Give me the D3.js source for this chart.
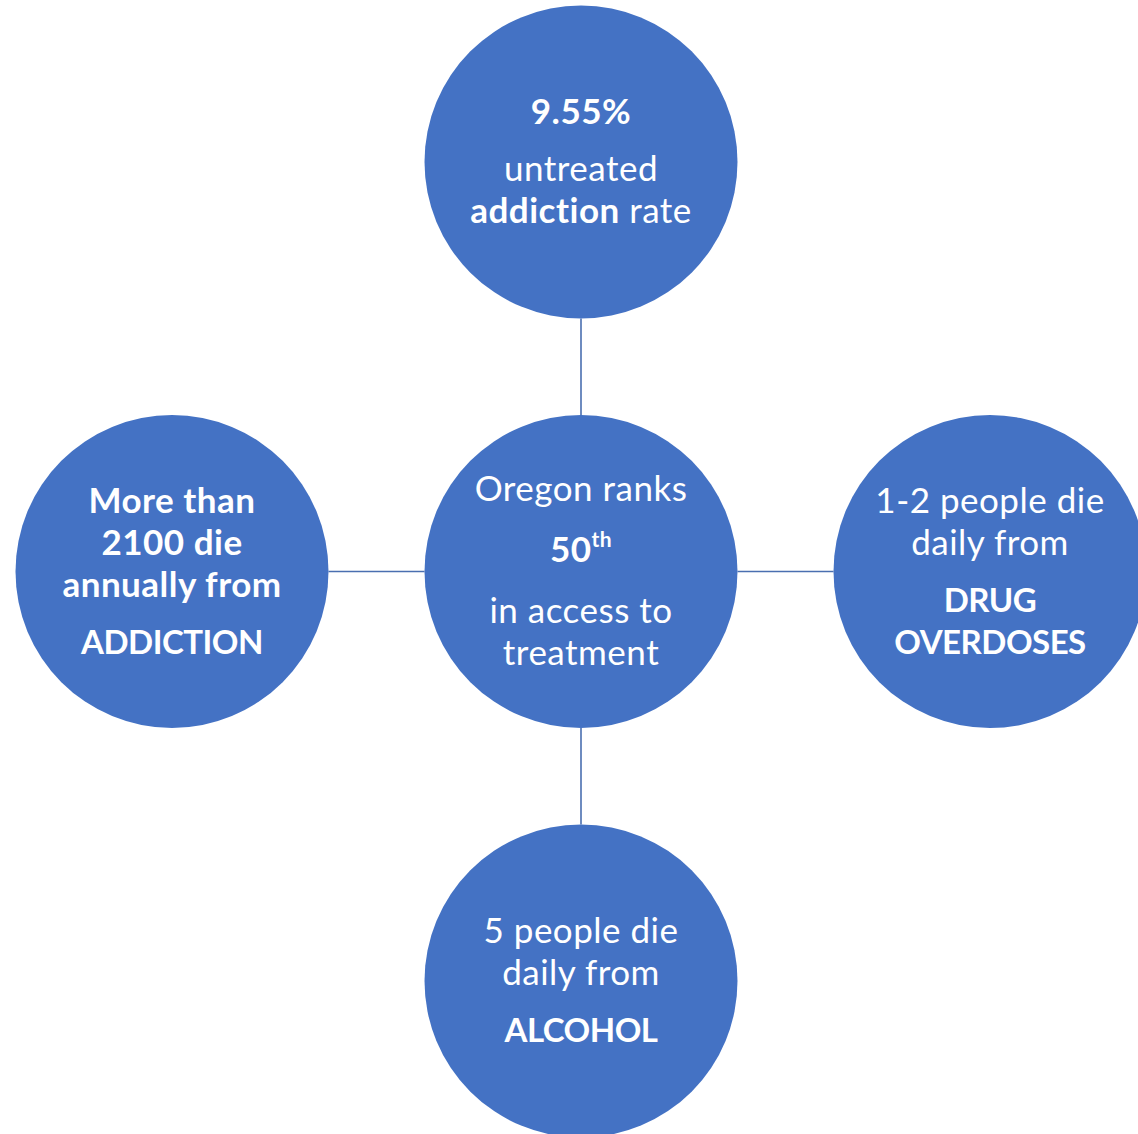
<!DOCTYPE html>
<html>
<head>
<meta charset="utf-8">
<script src="https://cdn.jsdelivr.net/npm/d3@7"></script>
<style>
  html, body { margin: 0; padding: 0; background: #fff; overflow: hidden; }
  text { font-variant-ligatures: none; font-feature-settings: "liga" 0, "clig" 0; }
</style>
</head>
<body>
<div id="chart"></div>
<script>
// Node placement (categorical grid cells) and the text each circle carries
var nodeIds = ["top", "center", "left", "right", "bottom"];
var nodeCols = ["mid", "mid", "left", "right", "mid"];
var nodeRows = ["top", "mid", "mid", "mid", "bottom"];

// each node: paragraphs -> lines -> segments [text, style]  (n = normal, b = bold, s = superscript)
var nodeText = [
  [ [ [["9.55%", "b"]] ],
    [ [["untreated", "n"]], [["addiction", "b"], [" rate", "n"]] ] ],
  [ [ [["Oregon ranks", "n"]] ],
    [ [["50", "b"], ["th", "s"]] ],
    [ [["in access to", "n"]], [["treatment", "n"]] ] ],
  [ [ [["More than", "b"]], [["2100 die", "b"]], [["annually from", "b"]] ],
    [ [["ADDICTION", "b"]] ] ],
  [ [ [["1-2 people die", "n"]], [["daily from", "n"]] ],
    [ [["DRUG", "b"]], [["OVERDOSES", "b"]] ] ],
  [ [ [["5 people die", "n"]], [["daily from", "n"]] ],
    [ [["ALCOHOL", "b"]] ] ]
];

// links from the hub to each outer node
var links = [["center", "top"], ["center", "left"], ["center", "right"], ["center", "bottom"]];

var width = 1138, height = 1134;
var radius = 156.5;
var fill = "#4472C4";
var font = "Lato, 'Open Sans', sans-serif";
var fontSize = 35, lineHeight = 42, paraGap = 15, supPad = 4, capHeight = 23;

var x = d3.scalePoint().domain(["left", "mid", "right"]).range([172, 990]);
var y = d3.scalePoint().domain(["top", "mid", "bottom"]).range([162, 981]);

var nodes = nodeIds.map(function(id, i) {
  return { id: id, cx: x(nodeCols[i]), cy: y(nodeRows[i]), text: nodeText[i] };
});
var byId = {};
nodes.forEach(function(d) { byId[d.id] = d; });

var svg = d3.select("#chart").append("svg")
  .attr("width", width)
  .attr("height", height);

// connector lines between circle edges
svg.selectAll(".link")
  .data(links)
  .enter().append("line")
  .attr("class", "link")
  .each(function(d) {
    var a = byId[d[0]], b = byId[d[1]];
    var dx = b.cx - a.cx, dy = b.cy - a.cy, len = Math.sqrt(dx * dx + dy * dy);
    var ux = dx / len, uy = dy / len;
    d3.select(this)
      .attr("x1", a.cx + ux * radius).attr("y1", a.cy + uy * radius)
      .attr("x2", b.cx - ux * radius).attr("y2", b.cy - uy * radius);
  })
  .style("stroke", "#4a6fb0")
  .style("stroke-width", "1.6px");

var node = svg.selectAll(".node")
  .data(nodes)
  .enter().append("g")
  .attr("class", "node")
  .attr("transform", function(d) { return "translate(" + d.cx + "," + d.cy + ")"; });

node.append("circle")
  .attr("r", radius)
  .style("fill", fill);

// lay out lines: baseline offsets relative to first baseline
node.each(function(d) {
  var g = d3.select(this);
  var lines = [];
  var yPos = 0;
  d.text.forEach(function(para, pi) {
    var hasSup = para.some(function(l) { return l.some(function(s) { return s[1] === "s"; }); });
    para.forEach(function(line, li) {
      if (lines.length > 0) {
        yPos += (li === 0) ? lineHeight + paraGap : lineHeight;
        if (li === 0 && hasSup) yPos += supPad;
      }
      lines.push({ y: yPos, segs: line, sup: hasSup });
    });
    if (hasSup) yPos += supPad;
  });
  var blockTop = -capHeight, blockBottom = yPos;
  var shift = -(blockTop + blockBottom) / 2;

  var text = g.selectAll("text")
    .data(lines)
    .enter().append("text")
    .attr("x", 0)
    .attr("y", function(l) { return l.y + shift; })
    .attr("text-anchor", "middle")
    .style("font-family", font)
    .style("font-size", fontSize + "px")
    .style("letter-spacing", "0.5px")
    .style("fill", "#fff");

  text.each(function(l) {
    var t = d3.select(this);
    l.segs.forEach(function(s) {
      var sp = t.append("tspan").text(s[0]);
      if (s[1] === "b") {
        sp.style("font-weight", "bold");
        // all-caps words run wide in Lato, pull them in a little
        if (s[0] === s[0].toUpperCase() && /[A-Z]/.test(s[0])) {
          sp.style("font-size", "33px").style("letter-spacing", "-0.5px");
        }
      }
      if (s[1] === "s") {
        sp.style("font-weight", "bold")
          .style("font-size", "21px")
          .attr("dy", -15);
      }
    });
  });
});
</script>
</body>
</html>
